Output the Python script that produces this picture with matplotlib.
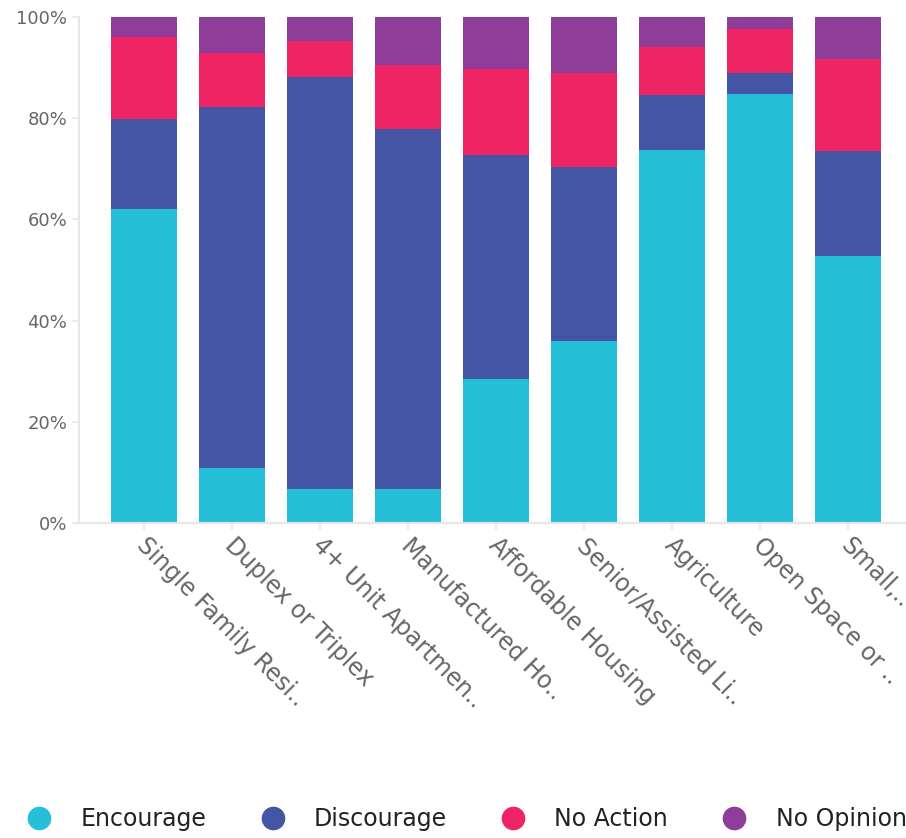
import numpy as np
import matplotlib
matplotlib.use("Agg")
import matplotlib.pyplot as plt
import matplotlib.transforms as mtransforms
from matplotlib.lines import Line2D

categories = ["Single Family Resi..", "Duplex or Triplex", "4+ Unit Apartmen..",
              "Manufactured Ho..", "Affordable Housing", "Senior/Assisted Li..",
              "Agriculture", "Open Space or ..", "Small,.."]
series = ["Encourage", "Discourage", "No Action", "No Opinion"]
encourage = [62.0, 10.9, 6.7, 6.7, 28.5, 36.0, 73.7, 84.8, 52.8]
discourage = [17.8, 71.3, 81.4, 71.2, 44.2, 34.4, 10.9, 4.1, 20.7]
no_action = [16.2, 10.7, 7.2, 12.6, 17.0, 18.5, 9.5, 8.7, 18.2]
no_opinion = [4.0, 7.1, 4.7, 9.5, 10.3, 11.1, 5.9, 2.4, 8.3]
colors = ["#26bfd8", "#4455a6", "#ee2465", "#8e3e98"]

plt.rcParams["font.family"] = ["DejaVu Sans"]
fig = plt.figure(figsize=(9.06, 8.38), dpi=100)
ax = fig.add_axes([0.0872, 0.3759, 0.9128 - 0.001, 0.6038])

x = np.arange(len(categories))
bottom = np.zeros(len(categories))
for name, vals, c in zip(series, [encourage, discourage, no_action, no_opinion], colors):
    ax.bar(x, vals, 0.75, bottom=bottom, color=c, label=name, zorder=2)
    bottom += np.array(vals)

ax.set_ylim(0, 100)
ax.set_xlim(-0.74, 8.646)
ax.set_yticks([0, 20, 40, 60, 80, 100])
ax.set_yticklabels(["0%", "20%", "40%", "60%", "80%", "100%"])
ax.set_xticks(x)
ax.set_xticklabels(categories, rotation=-45, ha="left", va="top", rotation_mode="anchor")
ax.tick_params(axis="both", colors="#e6e6e6", labelcolor="#666666", length=5, width=1.2)
ax.tick_params(axis="y", labelsize=13)
ax.tick_params(axis="x", labelsize=17, pad=4)
# nudge the slanted labels a little right, like the original
offset = mtransforms.ScaledTranslation(5 / 100, 2 / 100, fig.dpi_scale_trans)
for lab in ax.get_xticklabels():
    lab.set_transform(lab.get_transform() + offset)
for s in ["top", "right"]:
    ax.spines[s].set_visible(False)
for s in ["left", "bottom"]:
    ax.spines[s].set_color("#e6e6e6")
    ax.spines[s].set_linewidth(1.5)

handles = [Line2D([], [], marker="o", linestyle="none", markersize=16, color=c) for c in colors]
fig.legend(handles, series, loc="center", bbox_to_anchor=(0.509, 0.0227), ncol=4, frameon=False,
           fontsize=17, handletextpad=0.75, columnspacing=1.8, labelcolor="#222222",
           borderpad=0, borderaxespad=0)

fig.savefig("out.png", dpi=100)
